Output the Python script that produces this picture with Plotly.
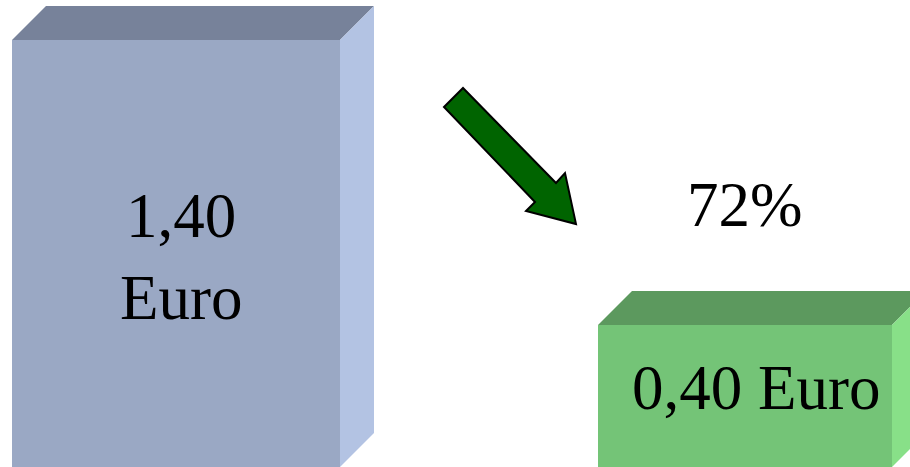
import plotly.graph_objects as go

# data
prices = [1.40, 0.40]
labels = ["1,40<br>Euro", "0,40 Euro"]
drop_label = "72%"

# bar geometry (pixels on a 910x467 canvas)
W, H = 910, 467
bar_x = [176, 745]
bar_w = [328, 294]
depth = 34
label_pos = [(181, 257), (756, 388)]
front_col = ["#9AA8C4", "#74C477"]
top_col = ["#77829A", "#5C995E"]
side_col = ["#B3C3E3", "#88E088"]

# value axis chosen so that 1,40 -> pixel 40 and 0,40 -> pixel 325
scale = (325 - 40) / (prices[0] - prices[1])
y_top = prices[0] + 40 / scale
y_bot = y_top - H / scale


def py(p):
    return y_top - p / scale


fig = go.Figure()

fig.add_trace(go.Bar(
    x=bar_x, y=[v - y_bot for v in prices], base=y_bot, width=bar_w,
    marker=dict(color=front_col, line=dict(width=0)),
    hoverinfo="skip"))

dv = depth / scale
for i, v in enumerate(prices):
    x0 = bar_x[i] - bar_w[i] / 2
    x1 = bar_x[i] + bar_w[i] / 2
    # top face
    fig.add_trace(go.Scatter(
        x=[x0, x1, x1 + depth, x0 + depth, x0],
        y=[v, v, v + dv, v + dv, v],
        fill="toself", fillcolor=top_col[i], mode="lines",
        line=dict(width=0), hoverinfo="skip"))
    # side face
    fig.add_trace(go.Scatter(
        x=[x1, x1 + depth, x1 + depth, x1, x1],
        y=[v, v + dv, y_bot + dv, y_bot, v],
        fill="toself", fillcolor=side_col[i], mode="lines",
        line=dict(width=0), hoverinfo="skip"))

for (lx, ly), t in zip(label_pos, labels):
    fig.add_annotation(x=lx, y=py(ly), text=t, showarrow=False,
                       font=dict(family="Liberation Serif", size=63, color="black"))

fig.add_annotation(x=744, y=py(205), text=drop_label, showarrow=False,
                   font=dict(family="Liberation Serif", size=63, color="black"))

# down arrow
arrow = [(444, 107), (463, 88), (556, 183), (565, 173), (576, 224), (526, 211), (535, 202)]
path = "M " + " L ".join(f"{x},{py(y)}" for x, y in arrow) + " Z"
fig.add_shape(type="path", path=path, xref="x", yref="y",
              fillcolor="#006400", line=dict(color="black", width=2))

fig.update_layout(
    width=W, height=H,
    margin=dict(l=0, r=0, t=0, b=0),
    plot_bgcolor="white", paper_bgcolor="white",
    showlegend=False,
    xaxis=dict(range=[0, W], visible=False, fixedrange=True),
    yaxis=dict(range=[y_bot, y_top], visible=False, fixedrange=True),
)

fig.write_html("out.html", config=dict(displayModeBar=False),
               post_script="document.body.style.margin='0';")
